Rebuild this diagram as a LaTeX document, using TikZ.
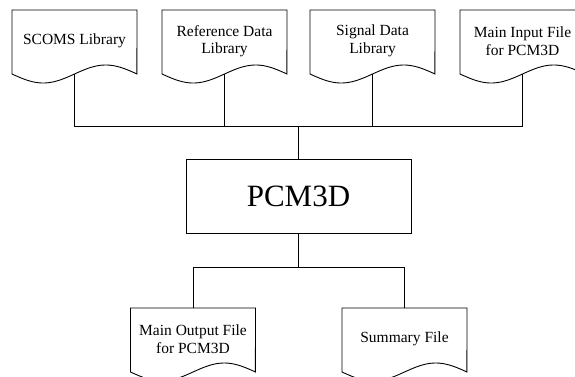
\documentclass[tikz,border=0pt]{standalone}
\usepackage{fontspec}
\setmainfont{Liberation Serif}
\newcommand\docshape[4]{%
  \draw[docline] plot[domain=0:1,samples=60] ({#2+125*\x},{#3+64+9*sin(360*\x)}) -- (#2+125,#3) -- (#2,#3) -- cycle;
  \node[doctext] (#1) at (#2+62.5,#3+31) {#4};
  \coordinate (#1b) at (#2+62.5,#3+64);
  \coordinate (#1t) at (#2+62.5,#3);
}
\begin{document}
\begin{tikzpicture}[x=1pt,y=-1pt,
  docline/.style={draw=black,line width=0.9pt,line join=miter},
  doctext/.style={inner sep=0pt,align=center,font=\fontsize{15.5}{17.5}\selectfont},
  conn/.style={draw=black,line width=0.9pt},
  corebox/.style={draw=black,line width=0.9pt,minimum width=225pt,minimum height=74pt,inner sep=0pt,font=\fontsize{31}{34}\selectfont}]
\useasboundingbox (0,0) rectangle (575,376);
\clip (0,0) rectangle (575,376);
\fill[white] (0,0) rectangle (575,376);
\docshape{d1}{12}{10}{SCOMS Library}
\docshape{d2}{162}{10}{Reference Data\\Library}
\docshape{d3}{310}{10}{Signal Data\\Library}
\docshape{d4}{460}{10}{Main Input File\\for PCM3D}
\node[corebox] (core) at (298.5,196) {PCM3D};
\docshape{d5}{130.5}{308}{Main Output File\\for PCM3D}
\docshape{d6}{342}{308}{Summary File}
\coordinate (jtop) at (298.5,126);
\coordinate (jbot) at (298.5,267);
\draw[conn] (d1b) |- (jtop);
\draw[conn] (d4b) |- (jtop);
\draw[conn] (d2b) -- (d2b |- jtop);
\draw[conn] (d3b) -- (d3b |- jtop);
\draw[conn] (jtop) -- (core.north);
\draw[conn] (core.south) -- (jbot);
\draw[conn] (jbot) -| (d5t);
\draw[conn] (jbot) -| (d6t);
\end{tikzpicture}
\end{document}
